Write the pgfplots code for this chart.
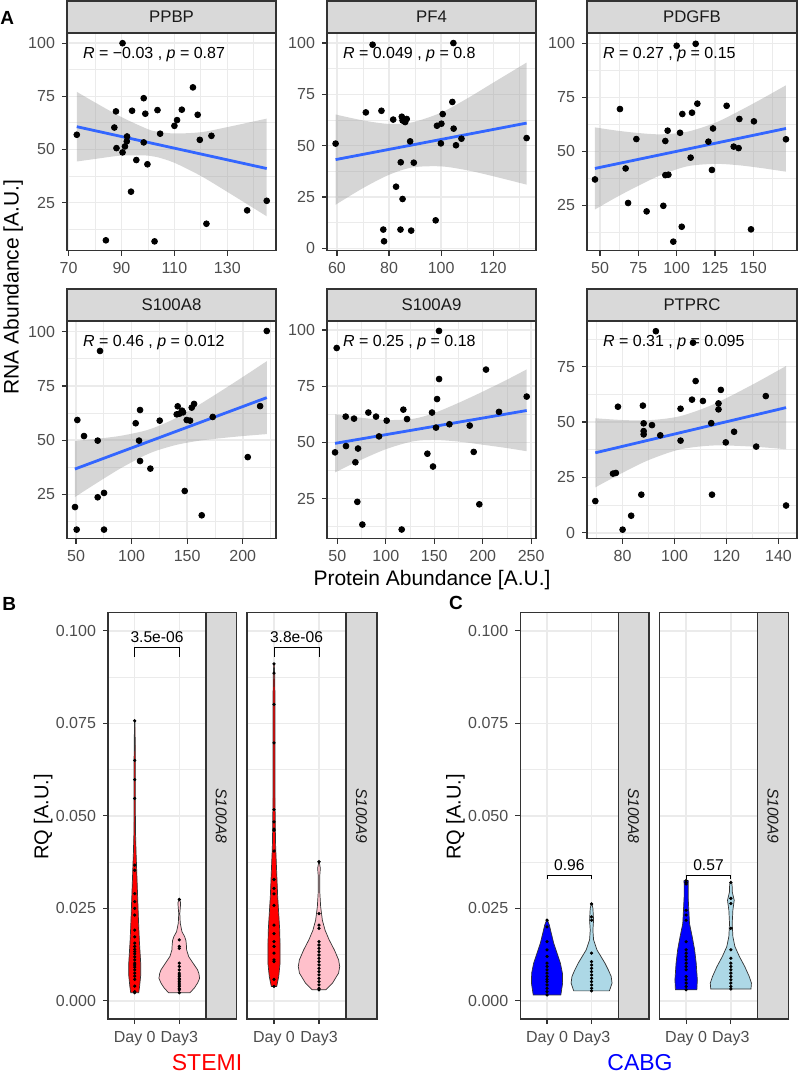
\documentclass[border=0pt]{standalone}
\usepackage{fontspec}
\setmainfont{Liberation Sans}
\usepackage{pgfplots}
\pgfplotsset{compat=1.18}
\usepgfplotslibrary{fillbetween}
\definecolor{g10}{HTML}{1A1A1A}
\definecolor{g20}{HTML}{333333}
\definecolor{g30}{HTML}{4D4D4D}
\definecolor{g60}{HTML}{999999}
\definecolor{g85}{HTML}{D9D9D9}
\definecolor{g92}{HTML}{EBEBEB}
\definecolor{smblue}{HTML}{3366FF}
\definecolor{pinkc}{HTML}{FFC0CB}
\definecolor{lblue}{HTML}{ADD8E6}
\pgfplotsset{
 gg/.style={anchor=north west, scale only axis, grid=both,
   major grid style={draw=g92, line width=0.75pt},
   minor grid style={draw=g92, line width=0.4pt},
   axis line style={draw=g20, line width=0.6pt},
   tick align=outside, tick pos=left,
   major tick length=2.5pt, minor tick length=0pt,
   tick style={draw=g20, line width=0.6pt},
   tick label style={font=\fontsize{8}{9.5}\selectfont, text=g30},
   /pgf/number format/assume math mode=true,
   clip=false},
 ggA/.style={gg, height=108.75pt},
 ggB/.style={gg, height=203.15pt, xmin=0.4, xmax=2.6, ymin=-0.0049, ymax=0.1049,
   xtick={1,2}, xticklabels={Day 0,Day3},
   ytick={0,0.025,0.05,0.075,0.1}, minor ytick={0.0125,0.0375,0.0625,0.0875},
   scaled y ticks=false,
   yticklabel style={/pgf/number format/fixed, /pgf/number format/fixed zerofill, /pgf/number format/precision=3}},
 pt/.style={only marks, mark=*, mark size=1.45pt, mark options={draw=none, fill=black}},
 vpt/.style={only marks, mark=*, mark size=0.6pt, mark options={draw=none, fill=black}},
 band/.style={fill=g60, fill opacity=0.4, draw=none},
 fit/.style={smblue, line width=1.4pt},
 vio/.style={draw=g20, line width=0.35pt},
}
\newcommand\stripA[1]{\draw[fill=g85, draw=g20, line width=0.6pt] (rel axis cs:0,1) rectangle (rel axis cs:1,1.1471);
  \node[font=\fontsize{8.4}{10}\selectfont, text=g10] at (rel axis cs:0.5,1.0735) {#1};}
\newcommand\stripB[1]{\draw[fill=g85, draw=g20, line width=0.6pt] (rel axis cs:1,0) rectangle (rel axis cs:1.3125,1);
  \node[rotate=-90, font=\fontsize{7.8}{9}\selectfont\itshape, text=g10] at (rel axis cs:1.156,0.5) {#1};}
\newcommand\Rtxt[1]{\node[anchor=west, font=\fontsize{8}{9.6}\selectfont] at (rel axis cs:0.043,0.899) {#1};}
\begin{document}
\begin{tikzpicture}
% ---------- A row 1 ----------
\begin{axis}[ggA, at={(33.5pt,-16.5pt)}, width=104.5pt,
  xmin=69.4, xmax=148.4, ymin=2.4, ymax=104.8,
  xtick={70,90,110,130}, minor xtick={80,100,120,140},
  ytick={25,50,75,100}, minor ytick={12.5,37.5,62.5,87.5}]
\addplot[pt] coordinates {(90.4,100)(73.1,56.9)(84.1,7.2)(87.9,67.9)(87.3,60.3)(88.1,50.6)(90.4,48.6)(91.3,51.4)(92.1,56.1)(92.0,53.8)(94.0,68.2)(93.6,30.1)(95.6,45.0)(98.4,74.1)(99.0,66.8)(98.4,53.3)(99.8,43.0)(102.5,6.7)(103.6,68.5)(104.6,57.4)(110.0,61.1)(111.0,63.8)(112.8,68.7)(117.0,79.2)(118.8,66.3)(119.6,54.5)(124.0,56.4)(122.1,15.0)(137.5,21.3)(144.9,25.8)};
\addplot[name path=u, draw=none, smooth] coordinates {(73.1,77.1)(80,72.1)(90,65.2)(100,59.5)(103.4,58.4)(110,57.5)(120,58.1)(130,60.5)(144.9,64.5)};
\addplot[name path=l, draw=none, smooth] coordinates {(73.1,44.3)(80,45.5)(90,47.1)(100,47.1)(103.4,46.4)(110,43.7)(120,37.5)(130,30.0)(144.9,18.5)};
\addplot[band] fill between[of=u and l];
\addplot[fit] coordinates {(73.1,60.7)(144.9,41.0)};
\Rtxt{\textit{R} = −0.03 , \textit{p} = 0.87}
\stripA{PPBP}
\end{axis}
\begin{axis}[ggA, at={(163.5pt,-16.5pt)}, width=104.5pt,
  xmin=56.2, xmax=136.4, ymin=-1.1, ymax=104.9,
  xtick={60,80,100,120}, minor xtick={70,90,110,130},
  ytick={0,25,50,75,100}, minor ytick={12.5,37.5,62.5,87.5}]
\addplot[pt] coordinates {(59.5,51.0)(73.7,99.2)(104.7,100)(71.1,66.2)(77.1,67.0)(81.6,62.7)(84.9,64.1)(85.2,62.3)(85.8,61.9)(86.8,63.0)(86.2,61.5)(88.1,52.1)(84.5,41.9)(89.5,41.7)(82.7,30.0)(85.2,24.0)(77.8,9.1)(78.1,3.4)(84.4,9.1)(88.5,8.6)(97.9,13.6)(104.3,71.3)(98.4,59.7)(100.1,60.7)(100.6,65.4)(99.9,51.1)(104.8,58.3)(105.7,50.2)(107.8,53.4)(132.8,53.7)};
\addplot[name path=u, draw=none, smooth] coordinates {(59.5,65.2)(70,62.3)(80,60.6)(89,61.4)(100,66.1)(110,73.0)(120,80.7)(132.8,90.5)};
\addplot[name path=l, draw=none, smooth] coordinates {(59.5,21.2)(70,29.3)(80,35.8)(89,39.4)(100,39.9)(110,38.0)(120,35.1)(132.8,31.0)};
\addplot[band] fill between[of=u and l];
\addplot[fit] coordinates {(59.5,43.2)(132.8,61.0)};
\Rtxt{\textit{R} = 0.049 , \textit{p} = 0.8}
\stripA{PF4}
\end{axis}
\begin{axis}[ggA, at={(293.5pt,-16.5pt)}, width=105pt,
  xmin=41.5, xmax=178.5, ymin=4.1, ymax=104.8,
  xtick={50,75,100,125,150}, minor xtick={62.5,87.5,112.5,137.5,162.5},
  ytick={25,50,75,100}, minor ytick={12.5,37.5,62.5,87.5}]
\addplot[pt] coordinates {(46.7,37.0)(63.0,69.6)(66.7,42.1)(68.3,26.1)(73.7,55.7)(80.4,22.2)(91.3,24.8)(92.6,54.8)(94.1,59.6)(92.6,39.0)(94.6,39.2)(100.0,98.9)(112.4,99.8)(102.2,58.6)(103.7,67.3)(103.3,15.1)(97.8,8.2)(109.1,47.1)(110.0,67.9)(113.5,72.1)(120.7,54.5)(123.7,60.6)(123.0,41.4)(132.6,71.1)(137.2,52.2)(140.9,65.0)(140.4,51.5)(150.4,63.9)(148.5,13.9)(171.3,55.6)};
\addplot[name path=u, draw=none, smooth] coordinates {(46.7,61.1)(60,59.7)(75,58.5)(90,57.9)(107,59.1)(125,63.2)(140,68.4)(155,74.1)(171.3,80.6)};
\addplot[name path=l, draw=none, smooth] coordinates {(46.7,23.1)(60,28.5)(75,34.1)(90,39.1)(107,43.1)(125,44.2)(140,43.6)(155,42.3)(171.3,40.6)};
\addplot[band] fill between[of=u and l];
\addplot[fit] coordinates {(46.7,42.1)(171.3,60.6)};
\Rtxt{\textit{R} = 0.27 , \textit{p} = 0.15}
\stripA{PDGFB}
\end{axis}
% ---------- A row 2 ----------
\begin{axis}[ggA, at={(33.5pt,-160.5pt)}, width=104.5pt,
  xmin=41.9, xmax=229.9, ymin=4.7, ymax=104.9,
  xtick={50,100,150,200}, minor xtick={75,125,175,225},
  ytick={25,50,75,100}, minor ytick={12.5,37.5,62.5,87.5}]
\addplot[pt] coordinates {(221.6,100.3)(71.6,91.1)(51.2,59.3)(57.2,51.9)(69.5,49.8)(49.1,19.2)(50.6,8.8)(75.2,8.8)(75.2,25.7)(69.5,23.7)(103.7,57.8)(107.6,63.9)(106.7,49.8)(107.6,40.4)(116.9,36.9)(125.3,59.0)(141.5,65.6)(140.6,61.9)(143.0,62.2)(145.4,63.6)(146.3,62.8)(149.6,59.3)(152.6,59.0)(154.1,65.0)(156.2,66.7)(147.8,26.6)(163.1,15.4)(173.0,60.7)(204.5,42.2)(215.6,65.7)};
\addplot[name path=u, draw=none, smooth] coordinates {(49,49.6)(70,50.7)(90,52.0)(110,54.1)(122,56.1)(140,60.2)(160,66.1)(180,72.5)(200,79.1)(221.6,86.4)};
\addplot[name path=l, draw=none, smooth] coordinates {(49,23.8)(70,30.7)(90,37.0)(110,42.5)(122,45.1)(140,47.8)(160,49.7)(180,50.9)(200,51.9)(221.6,52.8)};
\addplot[band] fill between[of=u and l];
\addplot[fit] coordinates {(49,36.7)(221.6,69.6)};
\Rtxt{\textit{R} = 0.46 , \textit{p} = 0.012}
\stripA{S100A8}
\end{axis}
\begin{axis}[ggA, at={(163.5pt,-160.5pt)}, width=104.5pt,
  xmin=39.3, xmax=255, ymin=7.3, ymax=104,
  xtick={50,100,150,200,250}, minor xtick={75,125,175,225},
  ytick={25,50,75,100}, minor ytick={12.5,37.5,62.5,87.5}]
\addplot[pt] coordinates {(49.3,92.0)(154.9,99.6)(47.6,45.6)(58.9,48.4)(58.6,61.5)(67.2,60.6)(68.6,41.2)(71.3,47.3)(70.6,23.6)(75.8,13.5)(82.0,63.3)(89.9,61.5)(93.0,52.7)(100.9,59.7)(118.1,64.6)(121.9,60.4)(116.4,11.3)(142.9,45.0)(148.7,39.3)(147.7,63.3)(152.9,69.3)(155.0,78.2)(151.8,56.6)(165.6,58.1)(186.6,57.5)(190.7,45.8)(203.4,82.4)(196.5,22.5)(216.8,63.6)(245.4,70.4)};
\addplot[name path=u, draw=none, smooth] coordinates {(47.6,62.5)(70,61.2)(100,60.0)(128,60.5)(150,63.1)(175,67.6)(200,72.6)(225,77.9)(245.4,82.5)};
\addplot[name path=l, draw=none, smooth] coordinates {(47.6,36.7)(70,41.4)(100,47.0)(128,50.5)(150,51.1)(175,50.4)(200,49.0)(225,47.5)(245.4,46.1)};
\addplot[band] fill between[of=u and l];
\addplot[fit] coordinates {(47.6,49.6)(245.4,64.2)};
\Rtxt{\textit{R} = 0.25 , \textit{p} = 0.18}
\stripA{S100A9}
\end{axis}
\begin{axis}[ggA, at={(293.5pt,-160.5pt)}, width=105pt,
  xmin=66.3, xmax=147.1, ymin=-2.6, ymax=95.6,
  xtick={80,100,120,140}, minor xtick={70,90,110,130},
  ytick={0,25,50,75}, minor ytick={12.5,37.5,62.5,87.5}]
\addplot[pt] coordinates {(92.8,91.0)(107.1,85.8)(69.5,14.3)(76.3,26.7)(77.4,27.0)(78.2,56.9)(80.0,1.4)(83.3,7.7)(87.2,17.2)(87.8,57.4)(88.1,49.4)(88.1,45.9)(88.1,44.4)(91.3,48.6)(94.5,44.0)(102.3,56.0)(102.3,41.6)(106.7,60.1)(108.1,68.5)(110.9,59.5)(114.1,49.5)(114.4,17.2)(116.9,58.4)(116.9,55.7)(117.8,64.5)(119.7,40.8)(122.9,45.6)(131.4,38.9)(135.1,61.7)(142.9,12.3)};
\addplot[name path=u, draw=none, smooth] coordinates {(69.5,51.7)(80,50.9)(90,50.8)(102,52.6)(115,58.0)(130,66.9)(142.9,75.3)};
\addplot[name path=l, draw=none, smooth] coordinates {(69.5,20.5)(80,27.1)(90,32.8)(102,37.6)(115,39.4)(130,38.9)(142.9,37.7)};
\addplot[band] fill between[of=u and l];
\addplot[fit] coordinates {(69.5,36.1)(142.9,56.5)};
\Rtxt{\textit{R} = 0.31 , \textit{p} = 0.095}
\stripA{PTPRC}
\end{axis}
% ---------- B ----------
\begin{axis}[ggB, at={(54pt,-306.35pt)}, width=49pt]
\addplot[vio, fill=red] coordinates {(1.09,0.0022)(1.11,0.004)(1.135,0.007)(1.135,0.010)(1.12,0.013)(1.105,0.016)(1.09,0.020)(1.075,0.025)(1.06,0.030)(1.045,0.035)(1.03,0.040)(1.019,0.045)(1.015,0.050)(1.015,0.060)(1.015,0.065)(1.011,0.070)(1.004,0.0757)(0.996,0.0757)(0.989,0.070)(0.985,0.065)(0.985,0.060)(0.985,0.050)(0.981,0.045)(0.97,0.040)(0.955,0.035)(0.94,0.030)(0.925,0.025)(0.91,0.020)(0.895,0.016)(0.88,0.013)(0.865,0.010)(0.865,0.007)(0.89,0.004)(0.91,0.0022)} --cycle;
\addplot[vio, fill=pinkc] coordinates {(2.24,0.0022)(2.34,0.0035)(2.41,0.0048)(2.457,0.0061)(2.44,0.0074)(2.41,0.0084)(2.31,0.0102)(2.21,0.012)(2.165,0.0138)(2.16,0.0150)(2.15,0.0163)(2.12,0.0174)(2.06,0.0187)(2.022,0.021)(2.012,0.0236)(2.025,0.0255)(2.03,0.0265)(2.008,0.0274)(1.992,0.0274)(1.97,0.0265)(1.975,0.0255)(1.988,0.0236)(1.978,0.021)(1.94,0.0187)(1.88,0.0174)(1.85,0.0163)(1.84,0.0150)(1.835,0.0138)(1.79,0.012)(1.69,0.0102)(1.59,0.0084)(1.56,0.0074)(1.543,0.0061)(1.59,0.0048)(1.66,0.0035)(1.76,0.0022)} --cycle;
\addplot[vpt] coordinates {(1,0.0757)(1,0.0650)(1,0.0598)(1,0.0547)(1,0.0367)(1,0.0353)(1,0.0290)(1,0.0268)(1,0.0250)(1,0.0232)(1,0.0191)(1,0.0173)(1,0.0156)(1,0.0147)(1,0.0139)(1,0.0133)(1,0.0127)(1,0.0119)(1,0.0111)(1,0.0102)(1,0.0097)(1,0.0091)(1,0.0084)(1,0.0075)(1,0.0067)(1,0.0058)(1,0.0040)(1,0.0025)(1,0.0022)};
\addplot[vpt] coordinates {(2,0.0274)(2,0.0165)(2,0.0147)(2,0.0142)(2,0.0102)(2,0.0093)(2,0.0084)(2,0.0075)(2,0.0070)(2,0.0066)(2,0.0061)(2,0.0057)(2,0.0052)(2,0.0048)(2,0.0043)(2,0.0039)(2,0.0034)(2,0.0030)(2,0.0022)};
\addplot[black, line width=0.4pt] coordinates {(1,0.0930)(1,0.0954)(2,0.0954)(2,0.0930)};
\node[font=\fontsize{7.8}{9}\selectfont] at (axis cs:1.5,0.0982) {3.5e-06};
\stripB{S100A8}
\end{axis}
\begin{axis}[ggB, at={(123.5pt,-306.35pt)}, width=49.5pt, yticklabels={}, ytick style={draw=none}]
\addplot[vio, fill=red] coordinates {(1.06,0.0039)(1.105,0.0066)(1.135,0.0102)(1.135,0.0147)(1.127,0.0191)(1.105,0.0236)(1.082,0.0281)(1.067,0.0326)(1.052,0.0371)(1.037,0.0416)(1.03,0.0461)(1.022,0.0551)(1.022,0.0641)(1.022,0.0731)(1.022,0.0821)(1.015,0.0884)(1.005,0.0911)(0.995,0.0911)(0.985,0.0884)(0.978,0.0821)(0.978,0.0731)(0.978,0.0641)(0.978,0.0551)(0.97,0.0461)(0.963,0.0416)(0.948,0.0371)(0.933,0.0326)(0.918,0.0281)(0.895,0.0236)(0.873,0.0191)(0.865,0.0147)(0.865,0.0102)(0.895,0.0066)(0.94,0.0039)} --cycle;
\addplot[vio, fill=pinkc] coordinates {(2.15,0.0030)(2.30,0.0048)(2.435,0.0075)(2.46,0.0093)(2.435,0.0111)(2.34,0.0138)(2.225,0.0165)(2.135,0.0191)(2.075,0.0218)(2.037,0.0254)(2.015,0.0299)(2.015,0.0335)(2.03,0.0358)(2.005,0.0376)(1.995,0.0376)(1.97,0.0358)(1.985,0.0335)(1.985,0.0299)(1.963,0.0254)(1.925,0.0218)(1.865,0.0191)(1.775,0.0165)(1.66,0.0138)(1.565,0.0111)(1.54,0.0093)(1.565,0.0075)(1.70,0.0048)(1.85,0.0030)} --cycle;
\addplot[vpt] coordinates {(1,0.0911)(1,0.0886)(1,0.0801)(1,0.0697)(1,0.0517)(1,0.0484)(1,0.0464)(1,0.0461)(1,0.0405)(1,0.0328)(1,0.0304)(1,0.0289)(1,0.0258)(1,0.0205)(1,0.0182)(1,0.0160)(1,0.0147)(1,0.0129)(1,0.0111)(1,0.0106)(1,0.0058)(1,0.0039)};
\addplot[vpt] coordinates {(2,0.0376)(2,0.0236)(2,0.0205)(2,0.0196)(2,0.0160)(2,0.0151)(2,0.0142)(2,0.0133)(2,0.0124)(2,0.0115)(2,0.0106)(2,0.0097)(2,0.0088)(2,0.0079)(2,0.0070)(2,0.0061)(2,0.0052)(2,0.0043)(2,0.0034)(2,0.0030)};
\addplot[black, line width=0.4pt] coordinates {(1,0.0930)(1,0.0954)(2,0.0954)(2,0.0930)};
\node[font=\fontsize{7.8}{9}\selectfont] at (axis cs:1.5,0.0982) {3.8e-06};
\stripB{S100A9}
\end{axis}
% ---------- C ----------
\begin{axis}[ggB, at={(260.15pt,-306.35pt)}, width=49pt]
\addplot[vio, fill=blue] coordinates {(1.31,0.0016)(1.35,0.0048)(1.345,0.0075)(1.30,0.0102)(1.225,0.0129)(1.15,0.0156)(1.097,0.0182)(1.052,0.0205)(1.01,0.0218)(0.99,0.0218)(0.948,0.0205)(0.903,0.0182)(0.85,0.0156)(0.775,0.0129)(0.70,0.0102)(0.655,0.0075)(0.65,0.0048)(0.69,0.0016)} --cycle;
\addplot[vio, fill=lblue] coordinates {(2.40,0.0027)(2.46,0.0048)(2.44,0.0066)(2.375,0.0084)(2.30,0.0102)(2.21,0.012)(2.12,0.0138)(2.045,0.0165)(2.03,0.0191)(2.045,0.0218)(2.037,0.0236)(2.03,0.025)(2.01,0.0262)(1.99,0.0262)(1.97,0.025)(1.963,0.0236)(1.955,0.0218)(1.97,0.0191)(1.955,0.0165)(1.88,0.0138)(1.79,0.012)(1.70,0.0102)(1.625,0.0084)(1.56,0.0066)(1.54,0.0048)(1.60,0.0027)} --cycle;
\addplot[vpt] coordinates {(1,0.0218)(1,0.0200)(1,0.0160)(1,0.0138)(1,0.0120)(1,0.0102)(1,0.0093)(1,0.0084)(1,0.0075)(1,0.0066)(1,0.0058)(1,0.0052)(1,0.0043)(1,0.0034)(1,0.0025)(1,0.0016)};
\addplot[vpt] coordinates {(2,0.0262)(2,0.0227)(2,0.0218)(2,0.0129)(2,0.0106)(2,0.0097)(2,0.0088)(2,0.0079)(2,0.0070)(2,0.0061)(2,0.0052)(2,0.0043)(2,0.0034)(2,0.0027)};
\addplot[black, line width=0.4pt] coordinates {(1,0.0329)(1,0.0340)(2,0.0340)(2,0.0329)};
\node[font=\fontsize{7.8}{9}\selectfont] at (axis cs:1.5,0.0367) {0.96};
\stripB{S100A8}
\end{axis}
\begin{axis}[ggB, at={(329.65pt,-306.35pt)}, width=49.2pt, yticklabels={}, ytick style={draw=none}]
\addplot[vio, fill=blue] coordinates {(1.24,0.0030)(1.25,0.0057)(1.225,0.0102)(1.19,0.0138)(1.135,0.0174)(1.075,0.0209)(1.06,0.0245)(1.045,0.0281)(1.045,0.0317)(1.05,0.0325)(0.95,0.0325)(0.955,0.0317)(0.955,0.0281)(0.94,0.0245)(0.925,0.0209)(0.865,0.0174)(0.81,0.0138)(0.775,0.0102)(0.75,0.0057)(0.76,0.0030)} --cycle;
\addplot[vio, fill=lblue] coordinates {(2.45,0.0032)(2.46,0.0048)(2.41,0.0066)(2.31,0.0093)(2.19,0.012)(2.09,0.0147)(2.045,0.0174)(2.03,0.0209)(2.045,0.0245)(2.075,0.0272)(2.03,0.0295)(2.03,0.0308)(2.02,0.0320)(1.98,0.0320)(1.97,0.0308)(1.97,0.0295)(1.925,0.0272)(1.955,0.0245)(1.97,0.0209)(1.955,0.0174)(1.91,0.0147)(1.81,0.012)(1.69,0.0093)(1.59,0.0066)(1.54,0.0048)(1.55,0.0032)} --cycle;
\addplot[vpt] coordinates {(1,0.0325)(1,0.0320)(1,0.0316)(1,0.0245)(1,0.0232)(1,0.0218)(1,0.0160)(1,0.0138)(1,0.0129)(1,0.0120)(1,0.0111)(1,0.0102)(1,0.0093)(1,0.0084)(1,0.0066)(1,0.0057)(1,0.0048)(1,0.0039)(1,0.0030)};
\addplot[vpt] coordinates {(2,0.0320)(2,0.0277)(2,0.0263)(2,0.0196)(2,0.0138)(2,0.0115)(2,0.0102)(2,0.0093)(2,0.0084)(2,0.0075)(2,0.0066)(2,0.0057)(2,0.0048)(2,0.0039)(2,0.0032)};
\addplot[black, line width=0.4pt] coordinates {(1,0.0329)(1,0.0340)(2,0.0340)(2,0.0329)};
\node[font=\fontsize{7.8}{9}\selectfont] at (axis cs:1.5,0.0367) {0.57};
\stripB{S100A9}
\end{axis}
% ---------- titles ----------
\node[font=\fontsize{9.5}{11}\selectfont\bfseries] at (3.6pt,-9pt) {A};
\node[font=\fontsize{9.5}{11}\selectfont\bfseries] at (4.6pt,-302pt) {B};
\node[font=\fontsize{9.5}{11}\selectfont\bfseries] at (228pt,-301.5pt) {C};
\node[rotate=90, font=\fontsize{10.5}{12}\selectfont] at (6.6pt,-143.5pt) {RNA Abundance [A.U.]};
\node[font=\fontsize{10.5}{12}\selectfont] at (216pt,-290pt) {Protein Abundance [A.U.]};
\node[rotate=90, font=\fontsize{10}{12}\selectfont] at (21.6pt,-408.5pt) {RQ [A.U.]};
\node[rotate=90, font=\fontsize{10}{12}\selectfont] at (227.7pt,-408.5pt) {RQ [A.U.]};
\node[font=\fontsize{11.5}{13}\selectfont, text=red] at (103.5pt,-531.3pt) {STEMI};
\node[font=\fontsize{11.5}{13}\selectfont, text=blue] at (320pt,-531.3pt) {CABG};
\pgfresetboundingbox
\useasboundingbox (0,0) rectangle (400pt,-536.5pt);
\end{tikzpicture}
\end{document}
